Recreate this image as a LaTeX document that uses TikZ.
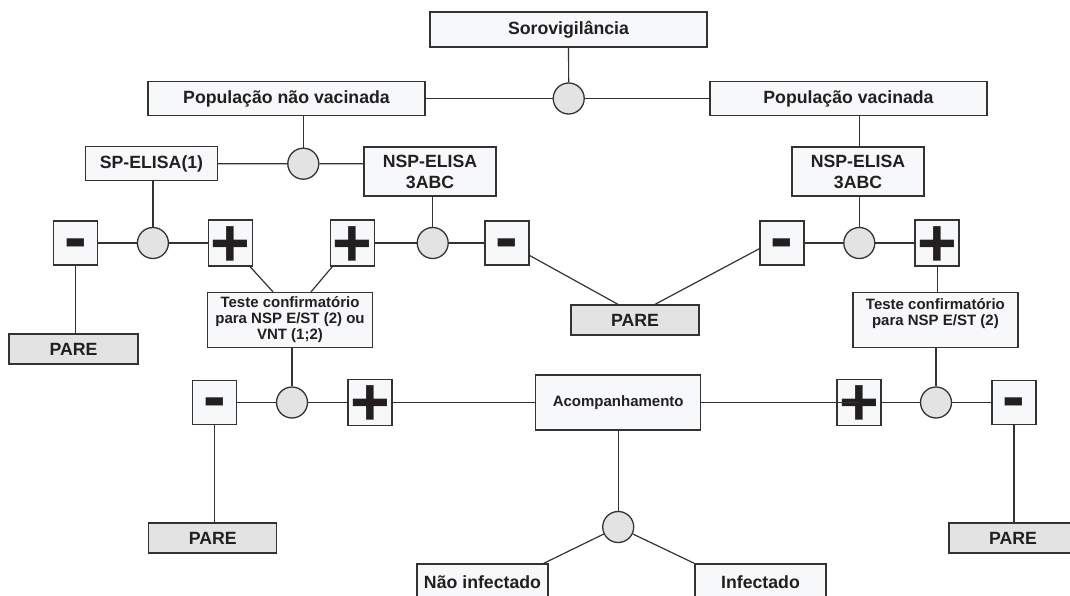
\documentclass[tikz,border=0pt]{standalone}
\usepackage{fontspec}
\setmainfont{Liberation Sans}
\usepackage{tikz}

\definecolor{edge}{HTML}{333333}
\definecolor{boxfill}{HTML}{F7F8FA}
\definecolor{stopfill}{HTML}{E3E3E3}
\definecolor{ink}{HTML}{231F20}

\tikzset{
	box/.style={draw=edge, fill=boxfill, line width=1.3pt, inner sep=0pt, align=center, text=ink, font=\bfseries\fontsize{17.7}{21}\selectfont},
	smalltext/.style={font=\bfseries\fontsize{15}{16}\selectfont},
	stopbox/.style={box, fill=stopfill, minimum width=128, minimum height=30},
	signbox/.style={box, minimum size=44, font=\bfseries\fontsize{68}{68}\selectfont},
	plusbox/.style={signbox, text height=46pt, text depth=-2pt},
	minusbox/.style={signbox, text height=34pt, text depth=0pt},
	knot/.style={circle, draw=edge, fill=stopfill, line width=1.3pt, minimum size=31, inner sep=0pt},
	link/.style={draw=edge, line width=1.2pt}
}

\begin{document}
\begin{tikzpicture}[x=1pt,y=-1pt]
		\useasboundingbox (0,0) rectangle (1070,596);

		\node[box, minimum width=277, minimum height=35] (soro) at (568.5,29.5) {Sorovigilância};
		\node[knot] (c1) at (568.7,98.5) {};
		\node[box, minimum width=277, minimum height=34] (popnv) at (286.5,98.5) {População não vacinada};
		\node[box, minimum width=277, minimum height=34] (popv) at (848.5,98.5) {População vacinada};

		\node[knot] (c2) at (303.3,163.7) {};
		\node[box, minimum width=132, minimum height=34] (spel) at (151.5,163.8) {SP-ELISA(1)};
		\node[box, minimum width=132, minimum height=49] (nspl) at (430,171.5) {NSP-ELISA\\3ABC};
		\node[box, minimum width=132, minimum height=49] (nspr) at (858,171.5) {NSP-ELISA\\3ABC};

		\node[minusbox] (m1) at (75.4,243) {-};
		\node[knot] (c3) at (152.9,243) {};
		\node[plusbox] (p1) at (230.2,243) {+};
		\node[plusbox] (p2) at (352.2,243) {+};
		\node[knot] (c4) at (432.7,243) {};
		\node[minusbox] (m2) at (507.1,243) {-};
		\node[minusbox] (m3) at (782.1,243) {-};
		\node[knot] (c5) at (859.3,243) {};
		\node[plusbox] (p3) at (937.1,243) {+};

		\node[stopbox, minimum width=129] (pare1) at (73.5,349) {PARE};
		\node[box, smalltext, minimum width=165, minimum height=55] (t1) at (290,320) {Teste confirmatório\\para NSP E/ST (2) ou\\VNT (1;2)};
		\node[stopbox] (pare2) at (635,320) {PARE};
		\node[box, smalltext, minimum width=165, minimum height=55] (t2) at (935.4,320) {Teste confirmatório\\para NSP E/ST (2)\\\mbox{}};

		\node[minusbox] (m4) at (214.8,402.5) {-};
		\node[knot] (c6) at (292,402.5) {};
		\node[plusbox] (p4) at (369.9,402.5) {+};
		\node[box, smalltext, minimum width=165, minimum height=55] (acomp) at (618.2,402.5) {Acompanhamento};
		\node[plusbox] (p5) at (859,402.5) {+};
		\node[knot] (c7) at (936,402.5) {};
		\node[minusbox] (m5) at (1013.9,402.5) {-};

		\node[stopbox] (pare3) at (212.8,538) {PARE};
		\node[stopbox] (pare4) at (1013,538) {PARE};
		\node[knot] (c8) at (618.2,527) {};
		\node[box, minimum width=131, minimum height=36] (ni) at (482.5,582) {Não infectado};
		\node[box, minimum width=131, minimum height=36] (inf) at (760.5,582) {Infectado};

		\draw[link] (soro) -- (c1);
		\draw[link] (popnv) -- (c1) -- (popv);
		\draw[link] (c2 |- popnv.south) -- (c2);
		\draw[link] (spel) -- (c2) -- (c2 -| nspl.west);
		\draw[link] (c3 |- spel.south) -- (c3);
		\draw[link] (c4 |- nspl.south) -- (c4);
		\draw[link] (m1) -- (c3) -- (p1);
		\draw[link] (p2) -- (c4) -- (m2);
		\draw[link] (c5 |- popv.south) -- (c5 |- nspr.north);
		\draw[link] (c5 |- nspr.south) -- (c5);
		\draw[link] (m3) -- (c5) -- (p3);

		\draw[link] (m1.south) -- (m1.south |- pare1.north);
		\draw[link] (p1.-50) -- ([xshift=-17pt]t1.north);
		\draw[link] (p2.-130) -- ([xshift=21pt]t1.north);
		\draw[link] (m2.-29) -- ([xshift=-17pt]pare2.north);
		\draw[link] (m3.-166) -- ([xshift=20pt]pare2.north);
		\draw[link] (p3.south) -- (p3.south |- t2.north);

		\draw[link] (c6 |- t1.south) -- (c6);
		\draw[link] (c7 |- t2.south) -- (c7);
		\draw[link] (m4) -- (c6) -- (p4) -- (acomp);
		\draw[link] (acomp.east) -- (p5.center);
		\draw[link] (p5) -- (c7) -- (m5);
		\draw[link] (m4.south) -- (m4.south |- pare3.north);
		\draw[link] (m5.south) -- (m5.south |- pare4.north);

		\draw[link] (acomp) -- (c8);
		\draw[link] (c8) -- ([xshift=-5pt]ni.north east);
		\draw[link] (c8) -- (inf.north west);
	\end{tikzpicture}
\end{document}
